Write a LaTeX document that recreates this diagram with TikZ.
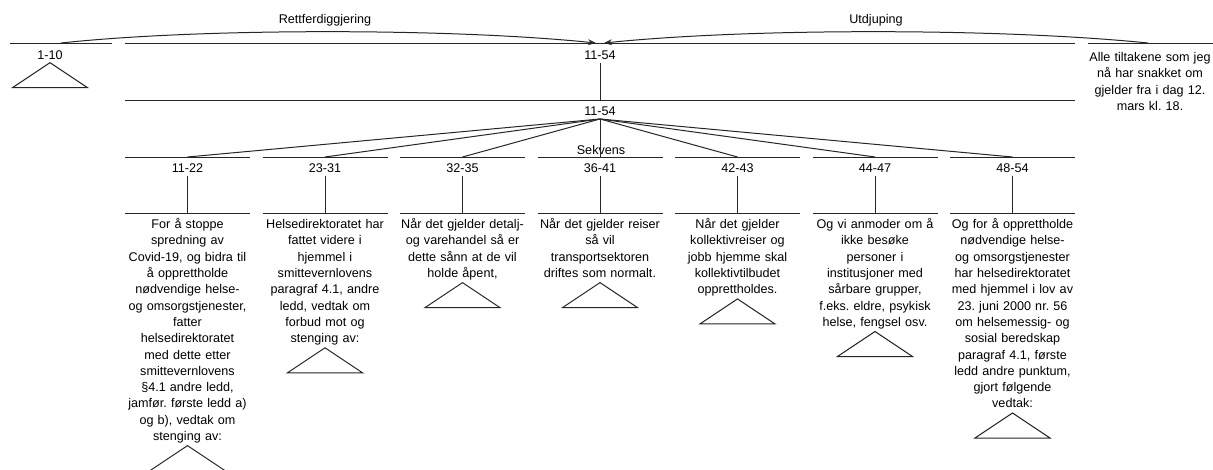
\documentclass[tikz,border=0pt]{standalone}
\usepackage{fontspec}
\setmainfont{Liberation Sans}
\usetikzlibrary{arrows.meta}
\usetikzlibrary{positioning}
\frenchspacing

\newcommand{\rstfont}{\fontsize{12.6}{16.3}\selectfont}

\tikzset{
  span/.style={draw=black!85, line width=1pt},
  lbl/.style={inner sep=0pt, font=\rstfont},
  leaf/.style={anchor=north, inner sep=0pt, text width=150pt, align=center,
    font=\rstfont, execute at begin node=\strut, execute at end node=\strut},
  rel/.style={draw=black!85, line width=1pt, -{Stealth[length=8pt,width=6pt]}},
  stub/.pic={\draw[span] (0,0) -- (-37.5,25) -- (37.5,25) -- cycle;}
}

\begin{document}
\begin{tikzpicture}[x=1pt, y=-1pt]
  \useasboundingbox (0,0) rectangle (1213,469);

  % top row
  \coordinate (s1-l) at (10,43);    \coordinate (s1-r) at (112,43);
  \coordinate (r-l) at (125,43);    \coordinate (r-r) at (1075,43);
  \coordinate (u-l) at (1088,43);   \coordinate (u-r) at (1213,43);
  \draw[span] (s1-l) -- (s1-r);
  \draw[span] (r-l) -- (r-r);
  \draw[span] (u-l) -- (u-r);

  \node[lbl] (s1) at (50,55) {1-10};
  \pic at ([yshift=-3pt]s1.south) {stub};
  \node[lbl] (r) at (600,55) {11-54};
  \node[leaf] (u) at (1150,50) {Alle tiltakene som jeg\\nå har snakket om\\gjelder fra i dag 12.\\mars kl. 18.};

  % relations
  \coordinate (s1-out) at (61,43);  \coordinate (u-out) at (1148,43);
  \coordinate (r-in1) at (596,43);  \coordinate (r-in2) at (604,43);
  \draw[rel] (s1-out) .. controls (200,28) and (450,28) .. (r-in1);
  \draw[rel] (u-out) .. controls (1000,28) and (750,28) .. (r-in2);
  \node[lbl] (just) at (325,20) {Rettferdiggjering};
  \node[lbl] (elab) at (876,20) {Utdjuping};

  % sequence
  \coordinate (m-l) at (125,100);   \coordinate (m-r) at (1075,100);
  \draw[span] (m-l) -- (m-r);
  \draw[span] ([yshift=-3pt]r.south) -- (600,100);
  \node[lbl] (m) at (600,111) {11-54};
  \coordinate (fan) at (600,119);
  \node[lbl] (seq) at (601,150) {Sekvens};

  \foreach \cx/\rng/\nm in {187.5/11-22/a, 325/23-31/b, 462.5/32-35/c,
      600/36-41/d, 737.5/42-43/e, 875/44-47/f, 1012.5/48-54/g} {
    \coordinate (\nm-l) at (\cx-62.5,157);
    \coordinate (\nm-r) at (\cx+62.5,157);
    \coordinate (\nm-top) at (\cx,157);
    \draw[span] (\nm-l) -- (\nm-r);
    \draw[span] (fan) -- (\nm-top);
    \node[lbl] (\nm) at (\cx,168) {\rng};
    \coordinate (\nm-bl) at (\cx-62.5,213);
    \coordinate (\nm-br) at (\cx+62.5,213);
    \coordinate (\nm-bar) at (\cx,213);
    \draw[span] (\nm-bl) -- (\nm-br);
    \draw[span] ([yshift=-3pt]\nm.south) -- (\nm-bar);
  }

  % leaves
  \node[leaf] (a-txt) at (187.5,217) {For å stoppe\\spredning av\\Covid-19, og bidra til\\å opprettholde\\nødvendige helse-\\og omsorgstjenester,\\fatter\\helsedirektoratet\\med dette etter\\smittevernlovens\\§4.1 andre ledd,\\jamfør. første ledd a)\\og b), vedtak om\\stenging av:};
  \node[leaf] (b-txt) at (325,217) {Helsedirektoratet har\\fattet videre i\\hjemmel i\\smittevernlovens\\paragraf 4.1, andre\\ledd, vedtak om\\forbud mot og\\stenging av:};
  \node[leaf] (c-txt) at (462.5,217) {Når det gjelder detalj-\\og varehandel så er\\dette sånn at de vil\\holde åpent,};
  \node[leaf] (d-txt) at (600,217) {Når det gjelder reiser\\så vil\\transportsektoren\\driftes som normalt.};
  \node[leaf] (e-txt) at (737.5,217) {Når det gjelder\\kollektivreiser og\\jobb hjemme skal\\kollektivtilbudet\\opprettholdes.};
  \node[leaf] (f-txt) at (875,217) {Og vi anmoder om å\\ikke besøke\\personer i\\institusjoner med\\sårbare grupper,\\f.eks. eldre, psykisk\\helse, fengsel osv.};
  \node[leaf] (g-txt) at (1012.5,217) {Og for å opprettholde\\nødvendige helse-\\og omsorgstjenester\\har helsedirektoratet\\med hjemmel i lov av\\23. juni 2000 nr. 56\\om helsemessig- og\\sosial beredskap\\paragraf 4.1, første\\ledd andre punktum,\\gjort følgende\\vedtak:};

  \foreach \nm in {a,b,c,d,e,f,g}
    \pic at (\nm-txt.south) {stub};
\end{tikzpicture}
\end{document}
